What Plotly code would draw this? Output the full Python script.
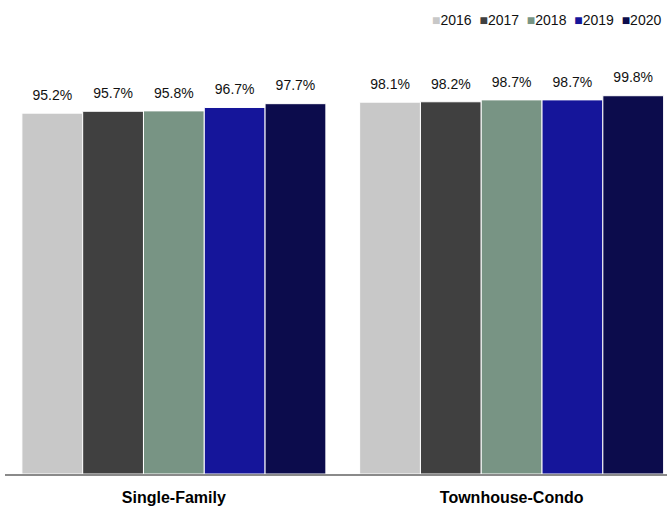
import plotly.graph_objects as go

categories = ["Single-Family", "Townhouse-Condo"]
years = ["2016", "2017", "2018", "2019", "2020"]
values = {
    "2016": [95.2, 98.1],
    "2017": [95.7, 98.2],
    "2018": [95.8, 98.7],
    "2019": [96.7, 98.7],
    "2020": [97.7, 99.8],
}
colors = ["#c8c8c8", "#404040", "#789484", "#15159a", "#0c0c4c"]
FONT = "Liberation Sans, Arial, sans-serif"

fig = go.Figure()
for y, c in zip(years, colors):
    fig.add_trace(go.Bar(
        name=y, x=categories, y=values[y],
        marker=dict(color=c, line=dict(color="white", width=1)),
        showlegend=False,
    ))
for y, c in zip(years, colors):
    fig.add_trace(go.Scatter(
        x=categories, y=values[y], mode="markers+text",
        marker=dict(size=14, opacity=0),
        text=[f"{v:.1f}%" for v in values[y]],
        textposition="top center", cliponaxis=False,
        textfont=dict(size=14, color="#111", family=FONT),
        showlegend=False, hoverinfo="skip",
    ))

legend_html = "&nbsp;&nbsp;".join(
    f"<span style='color:{c}'>■</span>{y}" for y, c in zip(years, colors)
)
fig.add_annotation(
    text=legend_html, xref="paper", yref="paper", x=1.0, y=1.0,
    xanchor="right", yanchor="bottom", yshift=10, xshift=-4, showarrow=False,
    font=dict(size=14, family=FONT, color="#111"),
)

fig.update_layout(
    width=667, height=510,
    margin=dict(l=5, r=0, t=40, b=36),
    barmode="group", bargap=0.1, bargroupgap=0.0,
    scattermode="group", scattergap=0.1,
    plot_bgcolor="white", paper_bgcolor="white",
    font=dict(family=FONT, size=13, color="#111"),
    showlegend=False,
    xaxis=dict(range=[-0.5, 1.46], showline=True, linecolor="#8a8a8a", linewidth=1.5,
               ticks="", tickfont=dict(size=16, family=FONT, color="#000"),
               ticklabelstandoff=8),
    yaxis=dict(range=[0, 114.5], visible=False, showgrid=False),
)
fig.update_xaxes(tickvals=categories, ticktext=[f"<b>{c}</b>" for c in categories])
fig.write_html("out.html")
